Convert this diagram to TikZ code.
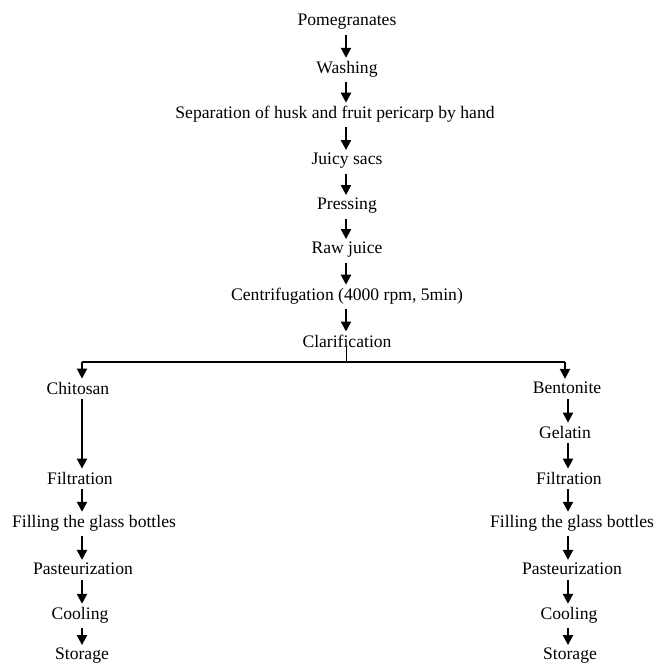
\documentclass[tikz,border=0pt]{standalone}
\usepackage{fontspec}
\setmainfont{Liberation Serif}
\usetikzlibrary{arrows.meta}

\tikzset{
  stage/.style={inner sep=0pt, font=\fontsize{17.6}{20}\selectfont},
  flow/.style={line width=2.2pt, shorten <=5pt, shorten >=3pt, -{Triangle[length=10pt,width=10pt]}},
  split/.style={line width=1.3pt}
}

\begin{document}
\begin{tikzpicture}[x=1pt,y=-1pt]
    \useasboundingbox (0,0) rectangle (654,667);

    % main line
    % nodes (steps)
    \node[stage] (pom) at (347,22) {Pomegranates};
    \node[stage] (wash) at (347,69) {Washing};
    \node[stage] (sep) at (335,114) {Separation of husk and fruit pericarp by hand};
    \node[stage] (sacs) at (347,161) {Juicy sacs};
    \node[stage] (press) at (347,206) {Pressing};
    \node[stage] (raw) at (347,250) {Raw juice};
    \node[stage] (centr) at (347,296) {Centrifugation (4000 rpm, 5min)};
    \node[stage] (clar) at (347,341) {Clarification};

    % columns
    \coordinate (mid) at (346,0);
    \coordinate (colL) at (82,0);
    \coordinate (colR) at (568,0);
    \coordinate (fork) at (346,362);
    \coordinate (forkL) at (82,362);
    \coordinate (forkR) at (565,362);

    % chitosan branch
    \node[stage] (chit) at (78,388) {Chitosan};
    \node[stage] (filtL) at (80,478) {Filtration};
    \node[stage] (fillL) at (94,523) {Filling the glass bottles};
    \node[stage] (pastL) at (83,569) {Pasteurization};
    \node[stage] (coolL) at (80,615) {Cooling};
    \node[stage] (storL) at (82,656) {Storage};

    % bentonite branch
    \node[stage] (bent) at (567,388) {Bentonite};
    \node[stage] (gel) at (565,432) {Gelatin};
    \node[stage] (filtR) at (569,478) {Filtration};
    \node[stage] (fillR) at (572,523) {Filling the glass bottles};
    \node[stage] (pastR) at (572,569) {Pasteurization};
    \node[stage] (coolR) at (569,615) {Cooling};
    \node[stage] (storR) at (570,656) {Storage};

    % paths
    \draw[flow] (pom.south -| mid) -- (wash.north -| mid);
    \draw[flow] (wash.south -| mid) -- (sep.north -| mid);
    \draw[flow] (sep.south -| mid) -- (sacs.north -| mid);
    \draw[flow] (sacs.south -| mid) -- (press.north -| mid);
    \draw[flow] (press.south -| mid) -- (raw.north -| mid);
    \draw[flow] (raw.south -| mid) -- (centr.north -| mid);
    \draw[flow] (centr.south -| mid) -- (clar.north -| mid);

    % split
    \draw[line width=0.8pt] (clar.south -| mid) -- (fork);
    \draw[split] (forkL) -- (forkR);
    \draw[flow, shorten <=0pt] (forkL) -- (chit.north -| forkL);
    \draw[flow, shorten <=0pt] (forkR) -- (bent.north -| forkR);

    \draw[flow] (chit.south -| colL) -- (filtL.north -| colL);
    \draw[flow] (filtL.south -| colL) -- (fillL.north -| colL);
    \draw[flow] (fillL.south -| colL) -- (pastL.north -| colL);
    \draw[flow] (pastL.south -| colL) -- (coolL.north -| colL);
    \draw[flow] (coolL.south -| colL) -- (storL.north -| colL);

    \draw[flow] (bent.south -| colR) -- (gel.north -| colR);
    \draw[flow] (gel.south -| colR) -- (filtR.north -| colR);
    \draw[flow] (filtR.south -| colR) -- (fillR.north -| colR);
    \draw[flow] (fillR.south -| colR) -- (pastR.north -| colR);
    \draw[flow] (pastR.south -| colR) -- (coolR.north -| colR);
    \draw[flow] (coolR.south -| colR) -- (storR.north -| colR);

\end{tikzpicture}
\end{document}
